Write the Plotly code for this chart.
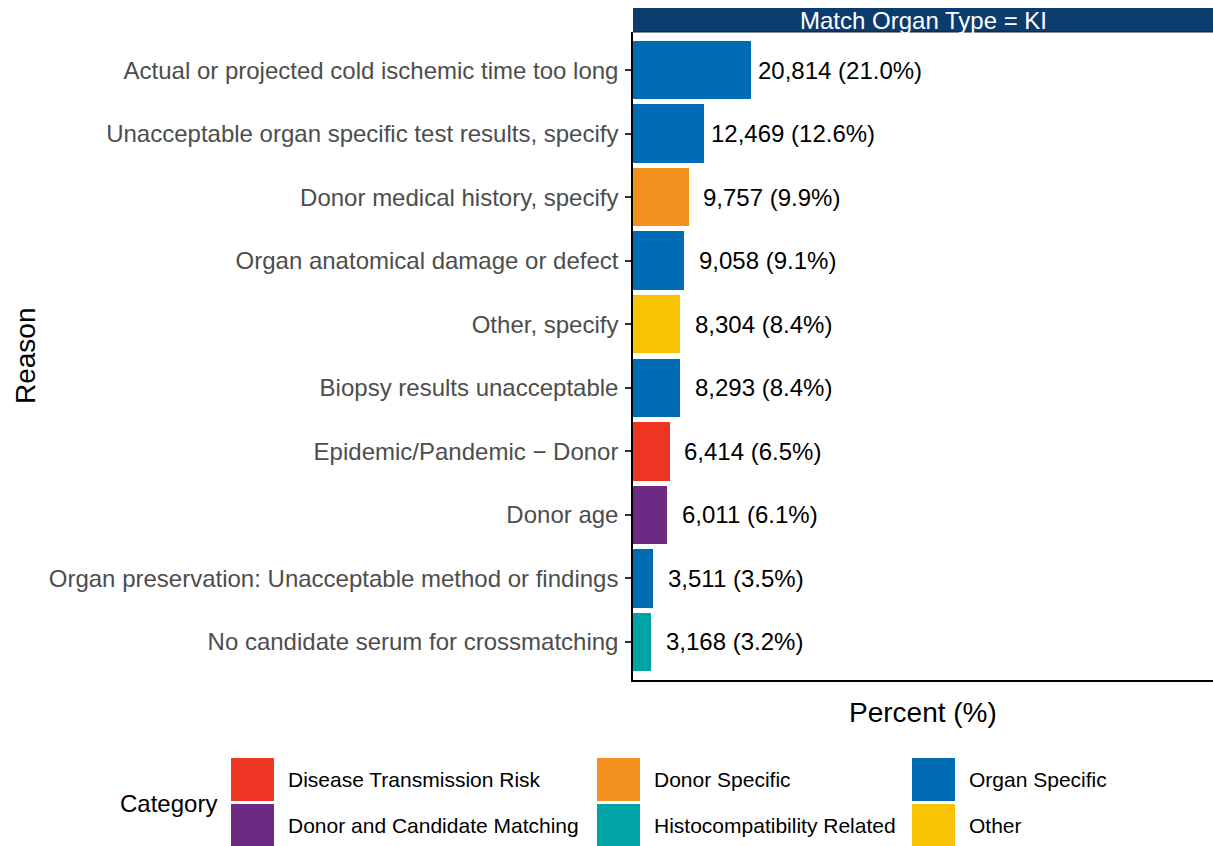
import plotly.graph_objects as go

# ---- data ----
reasons = [
    "Actual or projected cold ischemic time too long",
    "Unacceptable organ specific test results, specify",
    "Donor medical history, specify",
    "Organ anatomical damage or defect",
    "Other, specify",
    "Biopsy results unacceptable",
    "Epidemic/Pandemic \u2212 Donor",
    "Donor age",
    "Organ preservation: Unacceptable method or findings",
    "No candidate serum for crossmatching",
]
counts = [20814, 12469, 9757, 9058, 8304, 8293, 6414, 6011, 3511, 3168]
percents = [21.0, 12.6, 9.9, 9.1, 8.4, 8.4, 6.5, 6.1, 3.5, 3.2]
reason_category = [
    "Organ Specific", "Organ Specific", "Donor Specific", "Organ Specific", "Other",
    "Organ Specific", "Disease Transmission Risk", "Donor and Candidate Matching",
    "Organ Specific", "Histocompatibility Related",
]
categories = [
    "Disease Transmission Risk", "Donor and Candidate Matching", "Donor Specific",
    "Histocompatibility Related", "Organ Specific", "Other",
]
category_colors = {
    "Disease Transmission Risk": "#EE3524",
    "Donor and Candidate Matching": "#6D2A83",
    "Donor Specific": "#F2901E",
    "Histocompatibility Related": "#00A4A6",
    "Organ Specific": "#006CB6",
    "Other": "#F8C300",
}
facet_label = "Match Organ Type = KI"

# ---- geometry (pixels) ----
W, H = 1213, 846
L, R, T, B = 633, 0, 32, 166
PW, PH = W - L - R, H - T - B
FONT = "Liberation Sans, Arial, sans-serif"


def px_x(x):
    return (x - L) / PW


def px_y(y):
    return (H - B - y) / PH


fig = go.Figure()
fig.add_trace(go.Bar(
    x=percents, y=reasons, orientation="h", width=0.92,
    marker=dict(color=[category_colors[c] for c in reason_category], line=dict(width=0)),
    showlegend=False, hoverinfo="skip",
))

annotations = []
for r, n, p in zip(reasons, counts, percents):
    label = f"{n:,} ({p:.1f}%)"
    w_est = 11.6 * len(label)
    annotations.append(dict(
        x=p, y=r, xref="x", yref="y", text=label, showarrow=False,
        xanchor="center", yanchor="middle", xshift=47 + 0.26 * w_est,
        font=dict(family=FONT, size=24, color="#000000"),
    ))

# strip
shapes = [
    dict(type="rect", xref="paper", yref="paper", x0=0, x1=1, y0=1, y1=px_y(8),
         fillcolor="#0C3B6E", line=dict(width=0), layer="above"),
    dict(type="line", xref="paper", yref="paper", x0=0, x1=1, y0=1, y1=1,
         line=dict(color="#1a1a1a", width=1), layer="above"),
]
annotations.append(dict(
    x=0.5, y=(1 + px_y(8)) / 2, xref="paper", yref="paper", text=facet_label,
    showarrow=False, xanchor="center", yanchor="middle", yshift=-1,
    font=dict(family=FONT, size=24, color="#FFFFFF"),
))

# axis titles
annotations.append(dict(
    x=0.5, y=px_y(713), xref="paper", yref="paper", text="Percent (%)",
    showarrow=False, xanchor="center", yanchor="middle",
    font=dict(family=FONT, size=28, color="#000000"),
))
annotations.append(dict(
    x=px_x(25), y=0.5, xref="paper", yref="paper", text="Reason", textangle=-90,
    showarrow=False, xanchor="center", yanchor="middle",
    font=dict(family=FONT, size=28, color="#000000"),
))

# legend (drawn manually, column-major like ggplot)
key = 43
col_x = [231, 597, 912]
row_y = [758, 804]
for i, c in enumerate(categories):
    cx = col_x[i // 2]
    ry = row_y[i % 2]
    shapes.append(dict(type="rect", xref="paper", yref="paper",
                       x0=px_x(cx), x1=px_x(cx + key), y0=px_y(ry + key), y1=px_y(ry),
                       fillcolor=category_colors[c], line=dict(width=0)))
    annotations.append(dict(
        x=px_x(cx + 55), y=px_y(ry + key / 2), xref="paper", yref="paper", text=c,
        showarrow=False, xanchor="left", yanchor="middle",
        font=dict(family=FONT, size=21, color="#000000"),
    ))
annotations.append(dict(
    x=px_x(118), y=px_y(803), xref="paper", yref="paper", text="Category",
    showarrow=False, xanchor="left", yanchor="middle",
    font=dict(family=FONT, size=24, color="#000000"),
))

fig.update_layout(
    width=W, height=H,
    margin=dict(l=L, r=R, t=T, b=B, autoexpand=False),
    paper_bgcolor="white", plot_bgcolor="white",
    font=dict(family=FONT),
    xaxis=dict(range=[0, PW / 5.62], showgrid=False, zeroline=False,
               showticklabels=False, ticks="", showline=True,
               linecolor="#000000", linewidth=1.5, fixedrange=True),
    yaxis=dict(categoryorder="array", categoryarray=reasons,
               range=[len(reasons) - 0.4, -0.6], showgrid=False, zeroline=False,
               showline=True, linecolor="#000000", linewidth=1.5,
               ticks="outside", ticklen=6, tickwidth=1.5, tickcolor="#333333",
               tickfont=dict(family=FONT, size=24, color="#4D4D4D"),
               ticklabelstandoff=2, fixedrange=True),
    shapes=shapes, annotations=annotations, bargap=0,
)

fig.write_html(
    "out.html",
    config={"displayModeBar": False},
    post_script="document.body.style.margin='0';document.body.style.overflow='hidden';",
)
